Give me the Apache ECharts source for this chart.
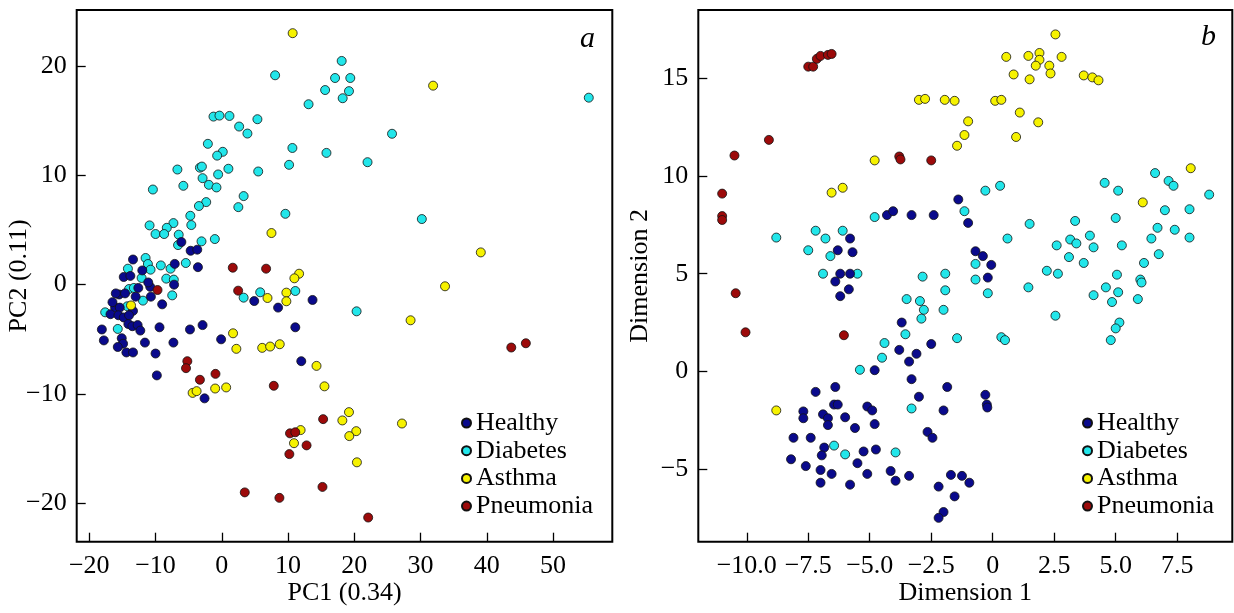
<!DOCTYPE html>
<html>
<head>
<meta charset="utf-8">
<script src="https://cdn.jsdelivr.net/npm/echarts@6/dist/echarts.min.js"></script>
<style>
html,body{margin:0;padding:0;background:#fff;}
#chart{width:1234px;height:613px;}
</style>
</head>
<body>
<div id="chart"></div>
<script>
// ---------- Panel a (PCA) ----------
var healthyA = [[-6.1,3.9],[-4.7,3.1],[-3.7,3.2],[-3.6,1.6],[-13.4,2.3],[-7.1,1.9],[-12.0,1.3],[-14.8,0.7],[-13.8,0.8],[-7.2,0.0],[-10.8,-0.2],[-15.5,-0.9],[-14.6,-0.8],[-13.0,-1.1],[-10.7,-1.1],[-9.0,-1.8],[-16.1,-2.1],[-15.4,-2.1],[-13.4,-2.4],[-16.8,-2.7],[-15.6,-2.8],[-14.8,-3.0],[-14.1,-3.6],[-13.5,-3.8],[-12.7,-3.7],[-12.3,-4.2],[-9.4,-3.9],[-18.1,-4.1],[-17.8,-5.1],[-15.1,-4.9],[-14.9,-5.4],[-15.7,-5.7],[-14.4,-6.2],[-13.4,-6.2],[-11.6,-5.3],[-10.0,-6.3],[-9.8,-8.3],[-7.3,-5.3],[-4.8,-4.1],[-2.9,-3.7],[-0.1,-5.0],[-2.6,-10.4],[4.9,-1.5],[8.5,-2.1],[13.7,-1.4],[11.1,-3.9],[12.0,-7.0],[-16.0,-0.8],[-12.6,-0.3],[-11.1,0.2],[-16.5,-1.6],[-14.0,-2.8]];
var diabetesA = [[8.05,19.15],[13.1,16.5],[-1.25,15.37],[-0.35,15.46],[1.16,15.43],[5.38,15.13],[2.62,14.46],[3.87,13.82],[-2.1,12.88],[10.66,12.5],[0.15,12.15],[-0.7,11.8],[10.16,10.96],[-6.7,10.53],[-3.3,10.7],[-3.0,10.8],[1.0,10.6],[5.5,10.35],[-0.55,10.08],[-10.4,8.7],[-5.8,9.04],[-2.9,9.74],[-1.95,9.13],[-0.8,8.89],[3.3,8.1],[2.5,7.09],[-2.35,7.55],[-3.45,7.19],[-4.75,6.3],[9.6,6.48],[-10.9,5.42],[-7.3,5.63],[-4.6,5.45],[-8.3,5.2],[-10.0,4.63],[-8.7,4.63],[-6.5,4.57],[-6.6,3.62],[-3.06,3.96],[-1.05,4.17],[-11.5,2.44],[-11.15,1.89],[-9.2,1.76],[-7.73,1.46],[-5.43,1.98],[-14.17,1.46],[-10.75,1.37],[-12.1,0.61],[-8.38,0.55],[-7.24,0.46],[-14.0,-0.4],[-13.27,-0.3],[-11.9,-1.46],[-7.48,-0.98],[-14.26,-1.98],[-17.6,-2.53],[-15.7,-4.05],[5.8,-0.7],[11.1,-0.58],[3.3,-1.19],[20.35,-2.44],[18.1,20.46],[17.1,18.9],[19.4,18.9],[15.6,17.8],[19.2,17.7],[18.25,17.05],[55.4,17.1],[25.7,13.8],[15.8,12.05],[22.0,11.2],[30.2,6.0]];
var asthmaA = [[10.7,23.0],[7.5,4.72],[11.67,1.0],[10.96,0.58],[9.75,-0.73],[31.9,18.2],[39.1,2.95],[33.7,-0.15],[6.9,-1.22],[9.75,-1.52],[28.5,-3.26],[14.3,-7.43],[15.5,-9.3],[19.2,-11.66],[18.2,-12.42],[20.3,-13.4],[19.25,-13.85],[27.2,-12.7],[11.9,-13.3],[10.9,-14.5],[20.4,-16.25],[1.7,-4.45],[2.2,-5.87],[6.1,-5.78],[7.3,-5.66],[8.75,-5.45],[-4.4,-9.9],[-3.8,-9.74],[-1.0,-9.5],[0.66,-9.4],[-13.7,-1.9]];
var pneumoniaA = [[1.66,1.55],[6.69,1.46],[2.47,-0.55],[-9.7,-0.49],[43.7,-5.75],[45.9,-5.36],[15.3,-12.3],[12.8,-14.7],[15.2,-18.5],[22.1,-21.3],[-5.2,-7.0],[-5.4,-7.64],[-0.95,-8.16],[-3.3,-8.7],[7.85,-9.25],[10.3,-13.6],[11.1,-13.5],[10.2,-15.5],[3.47,-19.0],[8.7,-19.5]];

// ---------- Panel b (Dimensions) ----------
var healthyB = [[-4.3,8.0],[-4.05,8.2],[-3.3,8.0],[-2.4,8.0],[-5.8,6.8],[-6.3,6.2],[-5.7,6.1],[-6.2,5.0],[-5.8,5.0],[-6.4,4.6],[-5.85,4.2],[-6.2,3.85],[-1.4,8.8],[-1.0,7.6],[-0.7,6.15],[-0.4,5.9],[-0.06,5.45],[-0.2,4.8],[-3.7,2.5],[-2.5,1.4],[-3.8,1.1],[-3.1,0.9],[-3.4,0.5],[-4.8,0.06],[-3.3,-0.4],[-1.85,-0.8],[-3.0,-1.3],[-6.4,-0.8],[-7.2,-1.05],[-6.45,-1.7],[-6.3,-1.7],[-5.1,-1.8],[-4.9,-2.0],[-7.7,-2.05],[-6.9,-2.2],[-2.0,-2.0],[-7.7,-2.4],[-6.7,-2.4],[-6.0,-2.35],[-6.7,-2.75],[-4.8,-2.7],[-5.6,-2.9],[-8.1,-3.4],[-7.4,-3.4],[-2.65,-3.1],[-2.45,-3.4],[-6.85,-3.9],[-6.95,-4.3],[-5.25,-4.1],[-4.75,-4.0],[-8.2,-4.5],[-7.6,-4.85],[-7.0,-5.05],[-6.55,-5.25],[-5.5,-4.7],[-5.1,-5.25],[-7.0,-5.7],[-5.8,-5.8],[-4.15,-5.1],[-3.95,-5.6],[-3.4,-5.35],[-2.2,-5.9],[-1.7,-5.3],[-1.25,-5.35],[-0.95,-5.7],[-1.55,-6.4],[-2.0,-7.2],[-2.2,-7.5],[-0.3,-1.2],[-0.24,-1.7],[-0.22,-1.85]];
var diabetesB = [[-8.8,6.85],[-7.2,7.2],[-6.8,6.8],[-6.1,7.2],[-7.5,6.2],[-6.6,5.9],[-6.9,5.0],[-5.5,5.0],[-4.8,7.9],[-2.85,4.85],[-1.93,5.0],[-1.93,4.15],[-3.5,3.7],[-2.96,3.6],[-2.8,3.15],[-2.9,2.7],[-2.0,3.15],[-3.55,1.9],[-4.4,1.45],[-4.5,0.7],[-5.4,0.08],[-3.3,-1.9],[-6.45,-3.8],[-6.0,-4.25],[-3.95,-4.15],[-0.3,9.25],[0.3,9.5],[-1.15,8.2],[1.5,7.55],[0.6,6.8],[-0.7,5.5],[-0.7,4.7],[-0.2,4.0],[1.45,4.3],[2.2,5.15],[2.65,5.0],[2.6,6.45],[3.15,6.75],[3.4,6.55],[3.35,7.7],[3.95,6.95],[4.1,6.35],[3.1,5.85],[3.7,5.55],[4.55,9.65],[5.1,9.25],[5.0,7.85],[5.25,6.45],[5.05,4.95],[4.6,4.3],[5.1,4.05],[4.1,3.9],[6.0,4.7],[6.05,4.55],[6.15,5.55],[6.75,6.0],[6.45,6.8],[6.7,7.35],[7.4,7.25],[8.0,6.85],[7.0,8.25],[8.0,8.3],[6.6,10.15],[7.15,9.75],[7.35,9.5],[8.8,9.05],[5.9,3.7],[-1.45,1.7],[0.35,1.75],[0.5,1.6],[2.55,2.85],[4.85,3.55],[5.15,2.5],[5.0,2.2],[4.8,1.6]];
var asthmaB = [[-3.0,13.9],[-2.75,13.95],[-1.95,13.9],[-4.8,10.8],[-6.55,9.15],[-6.1,9.4],[2.55,17.25],[0.55,16.1],[1.45,16.15],[1.9,16.3],[1.9,15.95],[1.75,15.65],[2.3,15.65],[2.8,16.1],[0.85,15.2],[1.5,14.95],[2.35,15.25],[3.7,15.15],[4.05,15.05],[4.3,14.9],[-1.55,13.85],[0.1,13.85],[0.35,13.9],[1.1,13.25],[-1.0,12.8],[1.85,12.75],[-1.15,12.1],[0.95,12.0],[-1.45,11.55],[8.05,10.4],[6.1,8.65],[-8.8,-2.0]];
var pneumoniaB = [[-7.5,15.6],[-7.3,15.6],[-7.15,16.0],[-7.0,16.15],[-6.7,16.2],[-6.55,16.25],[-9.1,11.85],[-10.5,11.05],[-11.0,9.1],[-11.0,7.95],[-11.0,7.75],[-3.8,11.0],[-3.75,10.85],[-2.5,10.8],[-10.45,4.0],[-10.05,2.0],[-6.05,1.85]];

// ---------- Ticks ----------
var ticksAX = [-20, -10, 0, 10, 20, 30, 40, 50];
var ticksAY = [-20, -10, 0, 10, 20];
var ticksBX = [-10, -7.5, -5, -2.5, 0, 2.5, 5, 7.5];
var ticksBY = [-5, 0, 5, 10, 15];

var groupNames = ['Healthy', 'Diabetes', 'Asthma', 'Pneumonia'];
var groupColors = ['#0a0a8c', '#22e6ea', '#f6f200', '#9c0a0a'];

var FONT = '"Liberation Serif", "Times New Roman", serif';
var FS = 26;

function minus(s) { return String(s).replace('-', '\u2212'); }

function makeX(idx, min, max, ticks, name, fmt) {
  return {
    type: 'value', gridIndex: idx, min: min, max: max,
    name: name, nameLocation: 'middle', nameGap: 38, nameMoveOverlap: false,
    nameTextStyle: { fontFamily: FONT, fontSize: FS, color: '#000' },
    axisLine: { show: false, onZero: false },
    splitLine: { show: false },
    axisTick: { show: true, inside: true, length: 9, customValues: ticks, lineStyle: { color: '#000', width: 1.3 } },
    axisLabel: { show: true, margin: 11, customValues: ticks, fontFamily: FONT, fontSize: FS, color: '#000', formatter: fmt }
  };
}
function makeY(idx, min, max, ticks, name, fmt) {
  return {
    type: 'value', gridIndex: idx, min: min, max: max,
    name: name, nameLocation: 'middle', nameGap: 45, nameMoveOverlap: false,
    nameTextStyle: { fontFamily: FONT, fontSize: FS, color: '#000' },
    axisLine: { show: false, onZero: false },
    splitLine: { show: false },
    axisTick: { show: true, inside: true, length: 9, customValues: ticks, lineStyle: { color: '#000', width: 1.3 } },
    axisLabel: { show: true, margin: 10, customValues: ticks, fontFamily: FONT, fontSize: FS, color: '#000', formatter: fmt }
  };
}

function fmtInt(v) { return minus(v); }
function fmtB(v) { return v === 0 ? '0' : minus(v.toFixed(1)); }

var dataA = [healthyA, diabetesA, asthmaA, pneumoniaA];
var dataB = [healthyB, diabetesB, asthmaB, pneumoniaB];
var drawOrder = [1, 0, 2, 3];

var series = [];
[dataA, dataB].forEach(function (set, gi) {
  drawOrder.forEach(function (k) {
    series.push({
      type: 'scatter', name: groupNames[k], xAxisIndex: gi, yAxisIndex: gi,
      data: set[k], symbol: 'circle', symbolSize: 9,
      itemStyle: { color: groupColors[k], borderColor: '#111', borderWidth: 0.8, opacity: 1 },
      emphasis: { disabled: true }
    });
  });
});

function makeLegend(left) {
  return {
    orient: 'vertical', left: left, top: 410, itemWidth: 9, itemHeight: 9, itemGap: 1.7,
    icon: 'circle', selectedMode: false, data: groupNames,
    textStyle: { fontFamily: FONT, fontSize: FS, color: '#000' },
    padding: 0
  };
}

var chart = echarts.init(document.getElementById('chart'), null, { renderer: 'canvas' });
chart.setOption({
  animation: false,
  backgroundColor: '#fff',
  grid: [
    { left: 76.7, top: 10, width: 535.6, height: 531.7, show: true, borderColor: '#000', borderWidth: 2, backgroundColor: 'transparent', containLabel: false, outerBoundsMode: 'none' },
    { left: 698.3, top: 10, width: 534, height: 531.7, show: true, borderColor: '#000', borderWidth: 2, backgroundColor: 'transparent', containLabel: false, outerBoundsMode: 'none' }
  ],
  xAxis: [
    makeX(0, -21.9, 58.95, ticksAX, 'PC1 (0.34)', fmtInt),
    makeX(1, -11.97, 9.74, ticksBX, 'Dimension 1', fmtB)
  ],
  yAxis: [
    makeY(0, -23.51, 25.12, ticksAY, 'PC2 (0.11)', fmtInt),
    makeY(1, -8.72, 18.5, ticksBY, 'Dimension 2', fmtInt)
  ],
  legend: [makeLegend(461), makeLegend(1082)],
  graphic: [
    { type: 'text', left: 580, top: 24, style: { text: 'a', font: 'italic 30px "Liberation Serif", serif', fill: '#000' } },
    { type: 'text', left: 1201, top: 22, style: { text: 'b', font: 'italic 30px "Liberation Serif", serif', fill: '#000' } }
  ],
  series: series
});
</script>
</body>
</html>
